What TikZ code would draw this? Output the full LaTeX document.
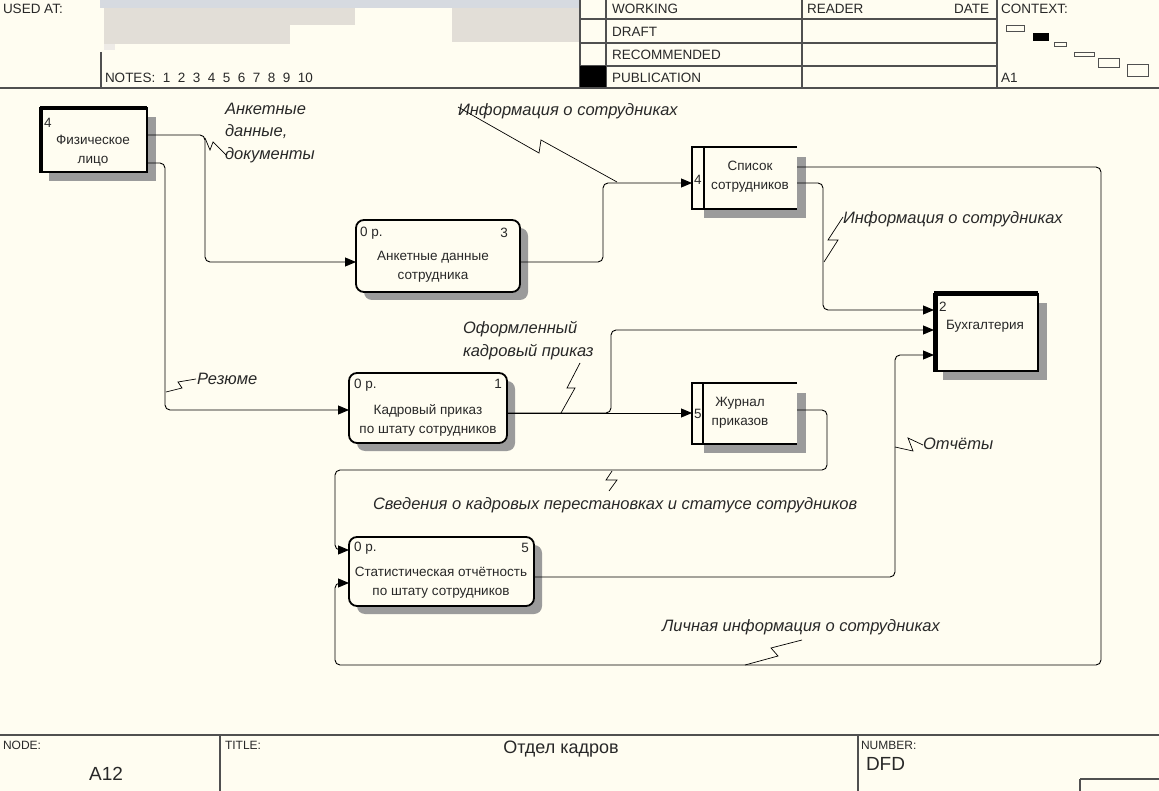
\documentclass[tikz,border=0pt]{standalone}
\usepackage{fontspec}
\setmainfont{Liberation Sans}
\usetikzlibrary{arrows.meta}
\definecolor{bg}{RGB}{255,253,241}
\definecolor{frame}{RGB}{80,80,80}
\definecolor{shd}{RGB}{155,155,155}
\definecolor{blurA}{RGB}{226,222,215}
\definecolor{blurB}{RGB}{214,218,224}
\definecolor{ink}{RGB}{40,40,40}
\begin{document}
\begin{tikzpicture}[x=1pt,y=-1pt,
  every node/.style={inner sep=0pt, outer sep=0pt},
  hdr/.style={font=\fontsize{13.5}{16}\selectfont, text=ink, anchor=west},
  ftr/.style={font=\fontsize{12}{14}\selectfont, text=ink, anchor=west},
  frm/.style={draw=frame, line width=1.2pt},
  proc/.style={draw, line width=1.8pt, rounded corners=8pt, fill=bg},
  procshadow/.style={fill=shd, rounded corners=8pt},
  shadowbox/.style={fill=shd},
  flow/.style={draw, line width=0.9pt, rounded corners=5pt},
  arr/.style={-{Triangle[length=11pt,width=9pt]}},
  lbl/.style={font=\fontsize{16.5}{22.5}\selectfont\itshape, anchor=west, align=left, text=ink},
  txt/.style={font=\fontsize{13.5}{19}\selectfont, align=center, text=ink},
  num/.style={font=\fontsize{13.5}{15}\selectfont, text=ink},
  sq/.style={draw, line width=0.7pt},
]
% background and bounding box
\fill[bg] (0,0) rectangle (1159,791);
\useasboundingbox (0,0) rectangle (1159,791);

% ---------- header ----------
\fill[blurB] (100,0) rectangle (580,8);
\fill[blurA] (104,8) rectangle (355,25);
\fill[blurA] (104,25) rectangle (290,44);
\fill[blurA] (452,8) rectangle (580,42);
\fill[blurA!60] (104,44) rectangle (115,50);
\node[hdr] at (3,9) {USED AT:};
\node[hdr] at (105,78) {NOTES:\ \ 1\ \ 2\ \ 3\ \ 4\ \ 5\ \ 6\ \ 7\ \ 8\ \ 9\ \ 10};
\draw[frm] (101,52) -- (101,88);
\draw[frm] (580,0) -- (580,88);
\draw[frm] (606,0) -- (606,88);
\draw[frm] (802,0) -- (802,88);
\draw[frm] (997,0) -- (997,88);
\draw[frm] (580,19) -- (997,19);
\draw[frm] (580,43) -- (997,43);
\draw[frm] (580,66) -- (997,66);
\fill[black] (580,66) rectangle (606,88);
\node[hdr] at (612,9) {WORKING};
\node[hdr] at (612,32) {DRAFT};
\node[hdr] at (612,55) {RECOMMENDED};
\node[hdr] at (612,78) {PUBLICATION};
\node[hdr] at (807,9) {READER};
\node[hdr, anchor=east] at (989,9) {DATE};
\node[hdr] at (1001,9) {CONTEXT:};
\node[hdr] at (1001,78) {A1};
\draw[frame, line width=1pt] (1006,26) rectangle (1024,32);
\filldraw[black] (1033,33) rectangle (1048,40);
\draw[frame, line width=1pt] (1054,43) rectangle (1066,47);
\draw[frame, line width=1pt] (1074,53) rectangle (1094,57);
\draw[frame, line width=1pt] (1098,59) rectangle (1119,68);
\draw[frame, line width=1pt] (1127,65) rectangle (1148,77);
\draw[frame, line width=2pt] (0,88) -- (1159,88);

% ---------- footer ----------
\draw[frame, line width=1.5pt] (0,735) -- (1159,735);
\draw[frm] (220,735) -- (220,791);
\draw[frm] (858,735) -- (858,791);
\draw[frm] (1080,779) -- (1159,779);
\draw[frm] (1080,779) -- (1080,791);
\node[ftr] at (3,745) {NODE:};
\node[ftr] at (225,745) {TITLE:};
\node[ftr] at (861,745) {NUMBER:};
\node[font=\fontsize{19}{20}\selectfont, text=ink] at (106,774) {A12};
\node[font=\fontsize{18}{20}\selectfont, text=ink] at (561,749) {Отдел кадров};
\node[font=\fontsize{19}{20}\selectfont, text=ink, anchor=west] at (866,764) {DFD};

% ---------- shadows ----------
\fill[shd] (49,117) rectangle (156,181);
\node[procshadow, minimum width=164pt, minimum height=72pt] at (446,264) {};
\node[procshadow, minimum width=158pt, minimum height=70pt] at (436,416) {};
\node[procshadow, minimum width=185pt, minimum height=69pt] at (449.5,579.5) {};
\fill[shd] (704,157) rectangle (806,218);
\fill[shd] (704,393) rectangle (806,453);
\fill[shd] (943,303) rectangle (1047,380);

% ---------- external entities ----------
\node[draw, line width=2.2pt, fill=bg, minimum width=107pt, minimum height=64pt] (e4) at (93.5,140) {};
\draw[line width=4.5pt] ([xshift=1.2pt]e4.south west) -- ([xshift=1.2pt]e4.north west);
\draw[line width=4.5pt] (e4.north west) -- (e4.north east);
\node[num, anchor=west] at (44,123) {4};
\node[txt] at (93,151) {Физическое\\лицо};

\node[draw, line width=2.5pt, fill=bg, minimum width=104pt, minimum height=77pt] (e2) at (986,332.5) {};
\draw[line width=5pt] ([xshift=1.3pt]e2.south west) -- ([xshift=1.3pt]e2.north west);
\draw[line width=5pt] (e2.north west) -- (e2.north east);
\node[num, anchor=west] at (939,307) {2};
\node[txt] at (985,326) {Бухгалтерия};

% ---------- processes ----------
\node[proc, minimum width=164pt, minimum height=72pt] (p3) at (438,256) {};
\node[num, anchor=west] at (360,233) {0 р.};
\node[num, anchor=east] at (508,233) {3};
\node[txt] at (433,267) {Анкетные данные\\сотрудника};

\node[proc, minimum width=158pt, minimum height=70pt] (p1) at (428,408) {};
\node[num, anchor=west] at (354,385) {0 р.};
\node[num, anchor=east] at (502,384) {1};
\node[txt] at (428,420) {Кадровый приказ\\по штату сотрудников};

\node[proc, minimum width=185pt, minimum height=69pt] (p5) at (441.5,571.5) {};
\node[num, anchor=west] at (354,548) {0 р.};
\node[num, anchor=east] at (529,548) {5};
\node[txt] at (441,583) {Статистическая отчётность\\по штату сотрудников};

% ---------- data stores ----------
\node[fill=bg, minimum width=105pt, minimum height=62pt] (d4) at (744.5,178) {};
\draw[line width=1.8pt] (d4.north east) -- (d4.north west) -- (d4.south west) -- (d4.south east);
\draw[line width=1.8pt] ([xshift=12pt]d4.north west) -- ([xshift=12pt]d4.south west);
\node[num, anchor=west] at (694,180) {4};
\node[txt] at (750,177) {Список\\сотрудников};

\node[fill=bg, minimum width=105pt, minimum height=61pt] (d5) at (744.5,413.5) {};
\draw[line width=1.8pt] (d5.north east) -- (d5.north west) -- (d5.south west) -- (d5.south east);
\draw[line width=1.8pt] ([xshift=11pt]d5.north west) -- ([xshift=11pt]d5.south west);
\node[num, anchor=west] at (694,414) {5};
\node[txt] at (740,413) {Журнал\\приказов};

% ---------- connectors ----------
\draw[flow,arr] (e4.east |- 0,135) -- (205,135) -- (205,262) -- (p3.west |- 0,262);
\draw[flow,arr] (e4.east |- 0,163) -- (165,163) -- (165,410) -- (p1.west |- 0,410);
\draw[flow,arr] (p3.east |- 0,262) -- (603,262) -- (603,183) -- (d4.west |- 0,183);
\draw[flow,arr] (d4.east |- 0,183) -- (823,183) -- (823,310) -- (e2.west |- 0,310);
\draw[flow,arr] (d4.east |- 0,167) -- (1101,167) -- (1101,665) -- (335,665) -- (335,583) -- (p5.west |- 0,583);
\draw[flow,arr] (p1.east |- 0,413) -- (611,413) -- (611,330) -- (e2.west |- 0,330);
\draw[flow,arr] (p1.east |- 0,413) -- (d5.west |- 0,413);
\draw[flow,arr] (d5.east |- 0,410) -- (827,410) -- (827,470) -- (335,470) -- (335,550) -- (p5.west |- 0,550);
\draw[flow,arr] (p5.east |- 0,577) -- (895,577) -- (895,355) -- (e2.west |- 0,355);

% ---------- labels with squiggles ----------
\node[lbl] (la) at (225,133) {Анкетные\\данные,\\документы};
\draw[sq] (205,138) -- (210,150) -- (213,142) -- (226,155);

\node[lbl] (lb) at (197,379) {Резюме};
\draw[sq] (166,392) -- (182,388) -- (178,382) -- (196,379);

\node[lbl] (lc) at (458,111) {Информация о сотрудниках};
\draw[sq] (458,107) -- (539,153) -- (541,140) -- (617,182);

\node[lbl] (ld) at (843,219) {Информация о сотрудниках};
\draw[sq] (824,262) -- (838,240) -- (828,240) -- (843,217);

\node[lbl] (lf) at (463,340.5) {Оформленный\\кадровый приказ};
\draw[sq] (561,413) -- (575,388) -- (567,388) -- (580,363);

\node[lbl] (lh) at (373,505) {Сведения о кадровых перестановках и статусе сотрудников};
\draw[sq] (612,471) -- (606,480) -- (617,480) -- (609,491);

\node[lbl] (li) at (923,444) {Отчёты};
\draw[sq] (895,447) -- (913,451) -- (908,438) -- (923,445);

\node[lbl] (le) at (662,627) {Личная информация о сотрудниках};
\draw[sq] (745,665) -- (778,656) -- (771,648) -- (802,640);
\end{tikzpicture}
\end{document}
